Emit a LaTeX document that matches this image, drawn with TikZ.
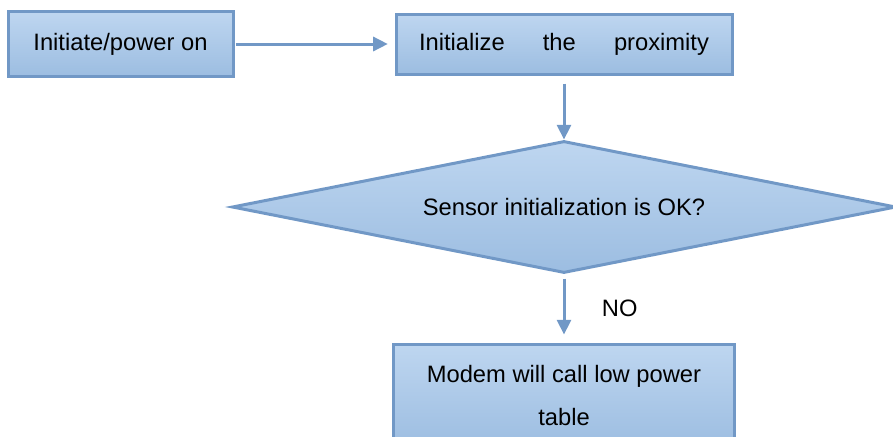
\documentclass[tikz,border=0pt]{standalone}
\usepackage{fontspec}
\setmainfont{Liberation Sans}
\usepackage{tikz}
\usetikzlibrary{shapes.geometric,arrows.meta,positioning}
\definecolor{myblue}{RGB}{113,152,198}
\definecolor{mytop}{RGB}{190,214,240}
\definecolor{mybottom}{RGB}{156,189,225}
\tikzstyle{stepbox}=[draw=myblue,line width=2.25pt,top color=mytop,bottom color=mybottom,inner sep=0pt,align=center,font=\fontsize{17.8}{32.25}\selectfont]
\tikzstyle{decision}=[stepbox,diamond,aspect=5]
\tikzstyle{flow}=[draw=myblue,line width=2.25pt,->]

\begin{document}
\begin{tikzpicture}[x=0.75pt,y=-0.75pt,>={Triangle[length=11pt,width=10.5pt]}]
\useasboundingbox (0,0) rectangle (893,436);
\draw (120.5, 44) node [stepbox, minimum width=168.75pt, minimum height=48.75pt] (init) {Initiate/power on};
\draw (564, 44) node [stepbox, minimum width=252pt, minimum height=45pt] (prox) {\makebox[217.5pt][s]{Initialize the proximity}};
\draw (564, 207) node [decision, minimum width=498pt, minimum height=99pt] (check) {Sensor initialization is OK?};
\draw (564, 396) node [stepbox, minimum width=255.75pt, minimum height=78pt] (modem) {Modem will call low power\\table};
\draw[flow, shorten <=1pt, shorten >=5pt] (init) -- (prox);
\draw[flow, shorten <=6pt, shorten >=0pt] (prox) -- (check);
\draw[flow, shorten <=3pt, shorten >=6pt] (check) -- (modem) node[midway, right=24pt, font=\fontsize{17.8}{21}\selectfont] (no) {NO};
\end{tikzpicture}
\end{document}
